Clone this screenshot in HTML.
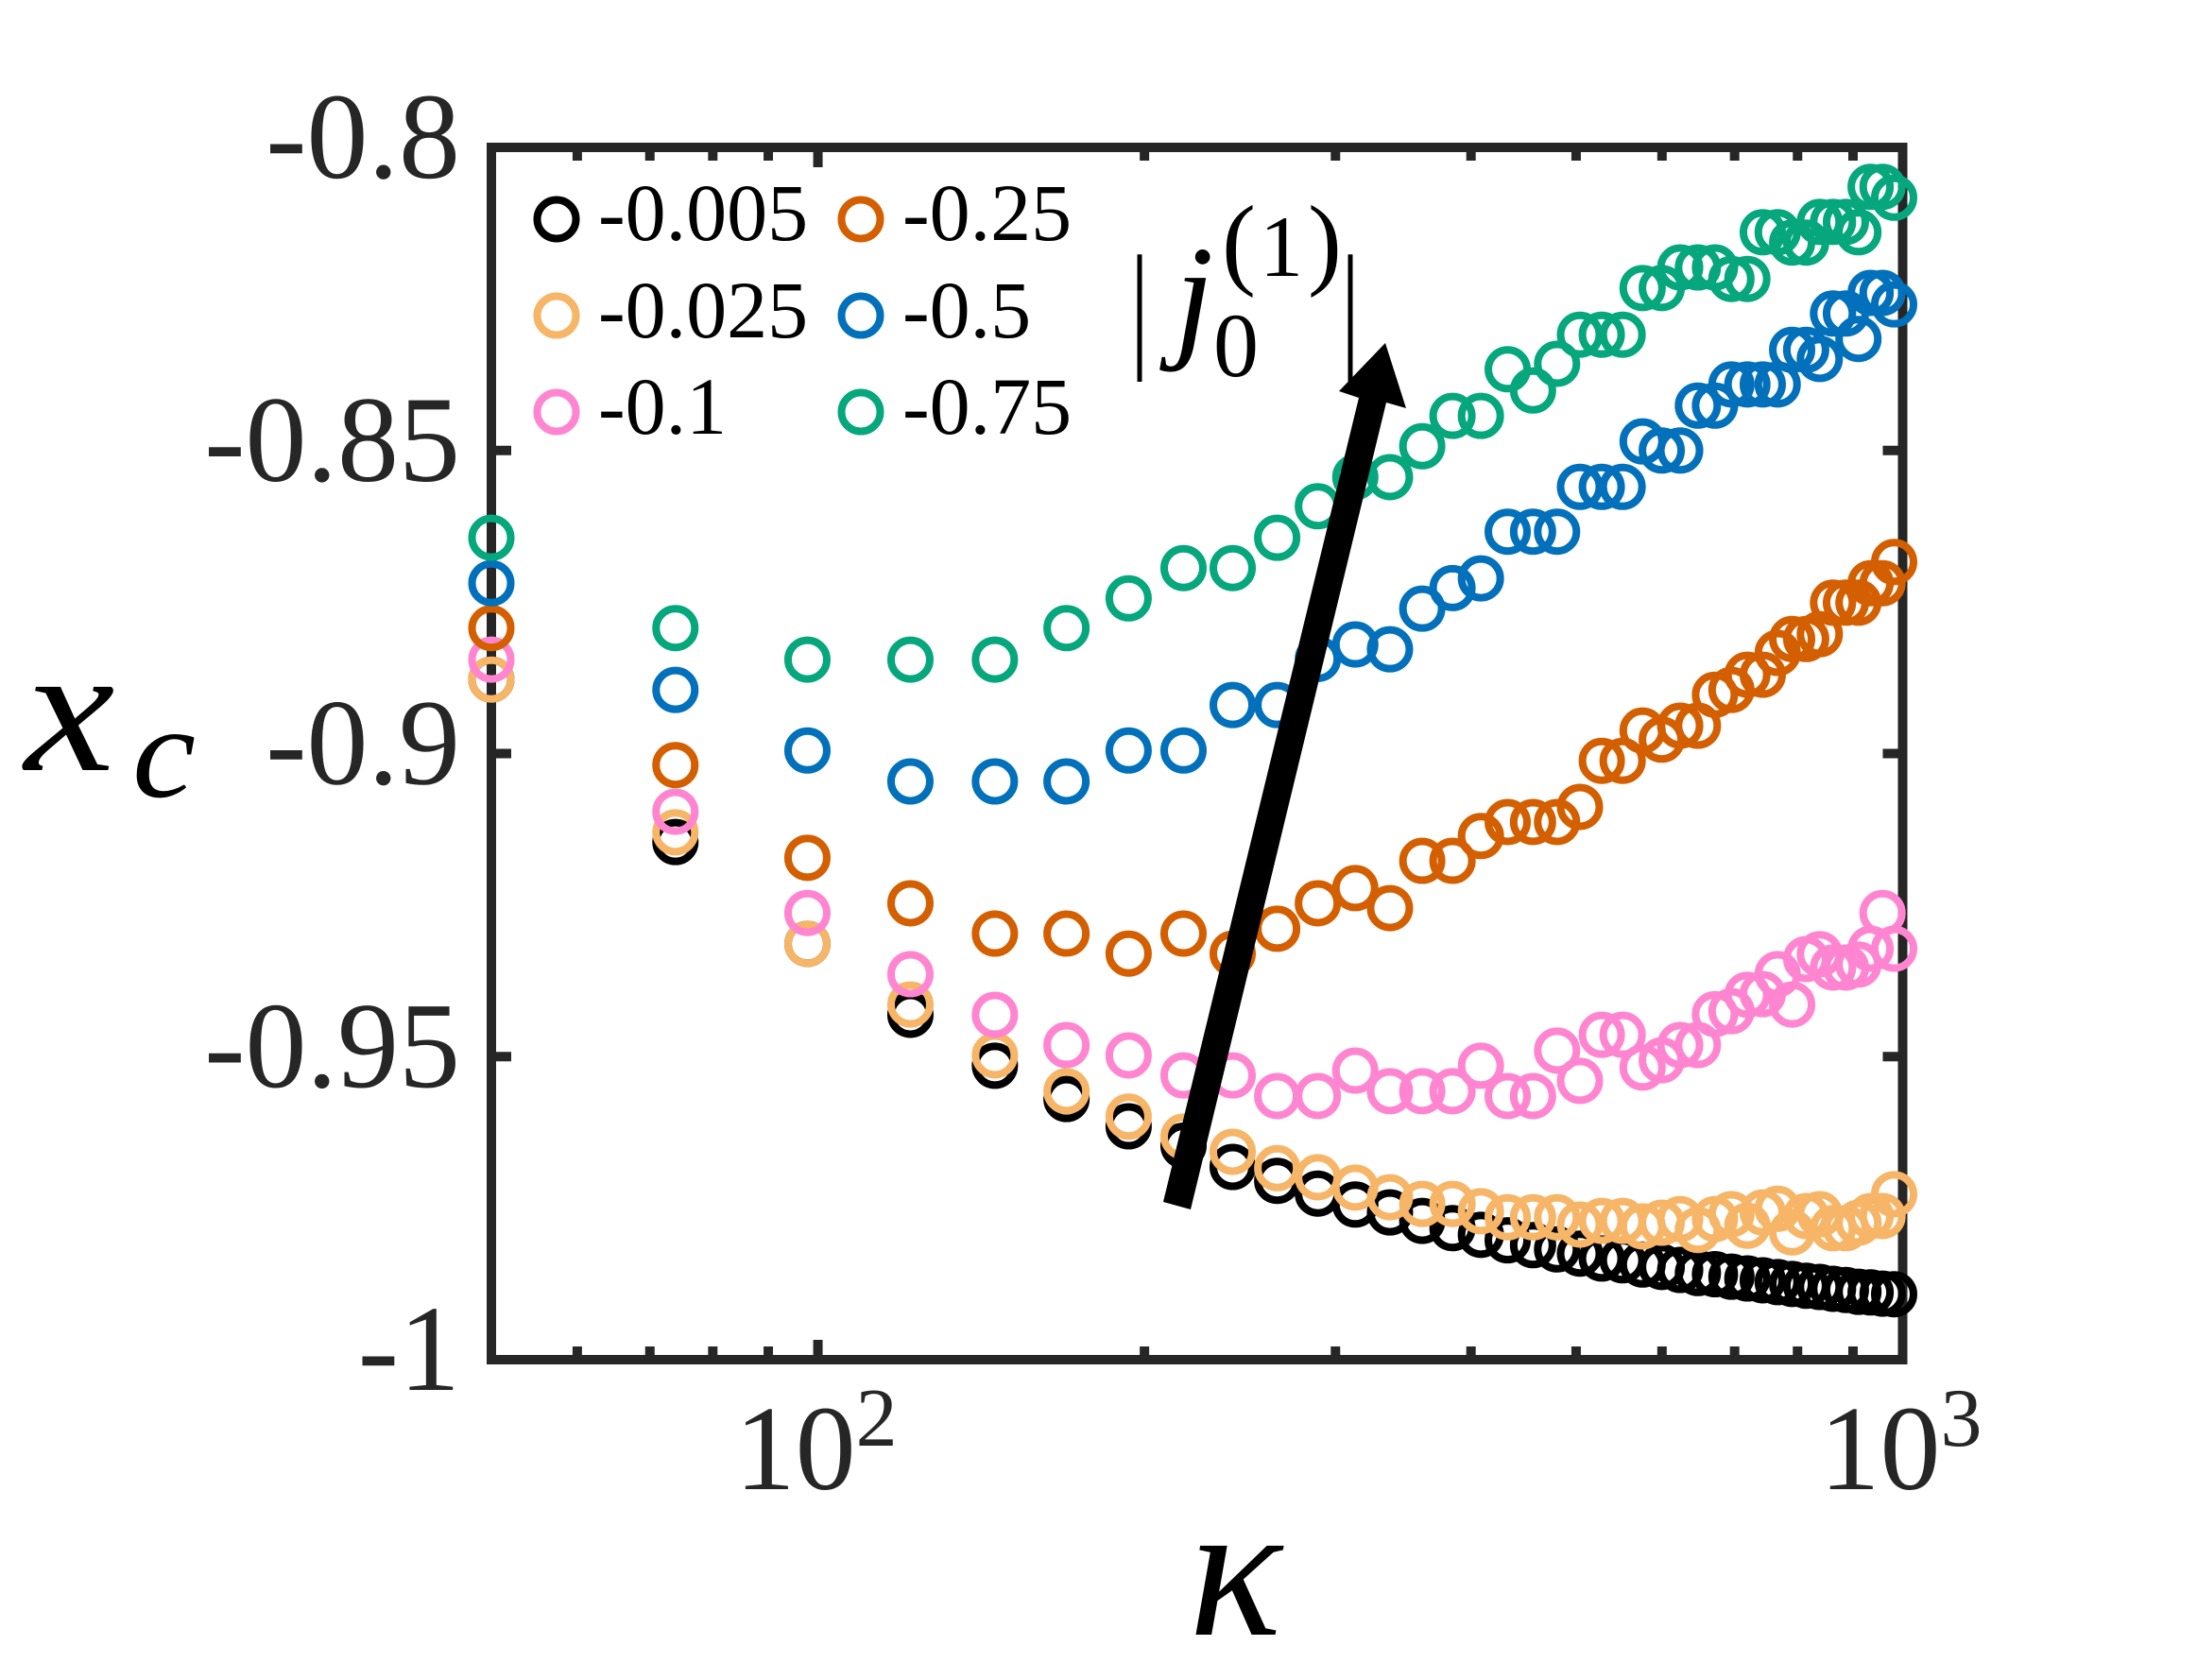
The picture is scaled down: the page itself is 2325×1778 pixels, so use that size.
<!DOCTYPE html>
<html lang="en">
<head>
<meta charset="utf-8">
<title>x_c versus kappa</title>
<style>
html,body{margin:0;padding:0;background:#fff;width:2325px;height:1778px;overflow:hidden}
svg{display:block}
text{font-family:"Liberation Serif","DejaVu Serif",serif}
</style>
</head>
<body>
<svg id="chart" xmlns="http://www.w3.org/2000/svg" width="2325" height="1778" viewBox="0 0 2325 1778">
  <rect x="0" y="0" width="2325" height="1778" fill="#ffffff"/>
  <g id="axes-layer"></g>
  <g id="series-layer"></g>

  <polygon fill="#000" points="1231,1272 1438,421 1417,414 1466,363 1488,432 1467,426 1260,1280"/>

  <g fill="#000">
    <text transform="translate(1196,372) scale(1,1.48)" font-size="100">|</text>
    <text x="1243" y="362" font-size="148" font-style="italic">j</text>
    <text x="1284" y="398" font-size="96">0</text>
    <text x="1293" y="292" font-size="108">(</text>
    <text x="1333" y="292" font-size="92">1</text>
    <text x="1384" y="292" font-size="108">)</text>
    <text transform="translate(1419,372) scale(1,1.48)" font-size="100">|</text>
  </g>

  <g font-size="86" fill="#000">
    <circle cx="589" cy="232" r="20.5" fill="none" stroke="#000000" stroke-width="8"/>
    <text x="633" y="254">-0.005</text>
    <circle cx="589" cy="334" r="20.5" fill="none" stroke="#F6B567" stroke-width="8"/>
    <text x="633" y="357">-0.025</text>
    <circle cx="589" cy="436" r="20.5" fill="none" stroke="#FF85D0" stroke-width="8"/>
    <text x="633" y="459">-0.1</text>
    <circle cx="911" cy="232" r="20.5" fill="none" stroke="#D35F00" stroke-width="8"/>
    <text x="955" y="254">-0.25</text>
    <circle cx="911" cy="334" r="20.5" fill="none" stroke="#0270BA" stroke-width="8"/>
    <text x="955" y="357">-0.5</text>
    <circle cx="911" cy="436" r="20.5" fill="none" stroke="#06A77D" stroke-width="8"/>
    <text x="955" y="459">-0.75</text>
  </g>

  <g fill="#000" font-style="italic">
    <text transform="translate(26,815) scale(1.12,1)" font-size="192">x</text>
    <text transform="translate(140,843) scale(1.08,1)" font-size="140">c</text>
  </g>
  <text x="1258" y="1730" font-size="205" font-style="italic" fill="#000">κ</text>
</svg>

<script>
// Data
const kappa = [50,73.9,97.8,121.7,145.6,169.5,193.4,217.3,241.2,265.1,289,312.9,336.8,360.7,384.6,408.5,432.4,456.3,480.2,504.1,528,551.9,575.8,599.7,623.6,647.5,671.4,695.3,719.2,743.1,767,790.9,814.8,838.7,862.6,886.5,910.4,934.3,958.2,982.1];
const j005 = [-0.8878,-0.9146,-0.9314,-0.9431,-0.9515,-0.9570,-0.9615,-0.9647,-0.9682,-0.9705,-0.9726,-0.9744,-0.9757,-0.9771,-0.9783,-0.9794,-0.9803,-0.9811,-0.9818,-0.9825,-0.9833,-0.9836,-0.9843,-0.9847,-0.9852,-0.9857,-0.9859,-0.9863,-0.9866,-0.9869,-0.9872,-0.9875,-0.9878,-0.9880,-0.9883,-0.9885,-0.9888,-0.9889,-0.9891,-0.9892];
const j025 = [-0.8878,-0.9130,-0.9314,-0.9414,-0.9498,-0.9557,-0.9599,-0.9632,-0.9657,-0.9684,-0.9699,-0.9716,-0.9732,-0.9743,-0.9743,-0.9755,-0.9765,-0.9765,-0.9765,-0.9777,-0.9771,-0.9771,-0.9780,-0.9774,-0.9768,-0.9786,-0.9768,-0.9760,-0.9779,-0.9757,-0.9751,-0.9790,-0.9763,-0.9760,-0.9783,-0.9783,-0.9774,-0.9763,-0.9763,-0.9727];
const j100 = [-0.8845,-0.9096,-0.9263,-0.9364,-0.9431,-0.9481,-0.9498,-0.9531,-0.9531,-0.9565,-0.9565,-0.9523,-0.9557,-0.9557,-0.9557,-0.9515,-0.9565,-0.9565,-0.9490,-0.9540,-0.9464,-0.9464,-0.9518,-0.9506,-0.9481,-0.9481,-0.9430,-0.9425,-0.9398,-0.9397,-0.9364,-0.9414,-0.9339,-0.9331,-0.9353,-0.9353,-0.9348,-0.9322,-0.9263,-0.9322];
const j250 = [-0.8793,-0.9019,-0.9172,-0.9247,-0.9297,-0.9297,-0.9330,-0.9297,-0.9330,-0.9289,-0.9247,-0.9222,-0.9255,-0.9177,-0.9177,-0.9136,-0.9113,-0.9113,-0.9113,-0.9088,-0.9012,-0.9012,-0.8962,-0.8977,-0.8954,-0.8954,-0.8903,-0.8895,-0.8870,-0.8870,-0.8834,-0.8811,-0.8811,-0.8803,-0.8751,-0.8751,-0.8751,-0.8719,-0.8719,-0.8684];
const j500 = [-0.8719,-0.8895,-0.8995,-0.9046,-0.9046,-0.9046,-0.8995,-0.8995,-0.8920,-0.8920,-0.8844,-0.8820,-0.8828,-0.8761,-0.8727,-0.8711,-0.8634,-0.8634,-0.8634,-0.8560,-0.8560,-0.8560,-0.8485,-0.8500,-0.8500,-0.8426,-0.8426,-0.8391,-0.8391,-0.8391,-0.8391,-0.8334,-0.8334,-0.8349,-0.8274,-0.8274,-0.8316,-0.8240,-0.8240,-0.8259];
const j750 = [-0.8644,-0.8793,-0.8845,-0.8845,-0.8845,-0.8793,-0.8744,-0.8694,-0.8694,-0.8644,-0.8592,-0.8544,-0.8544,-0.8493,-0.8443,-0.8443,-0.8366,-0.8401,-0.8357,-0.8309,-0.8309,-0.8309,-0.8232,-0.8232,-0.8198,-0.8198,-0.8198,-0.8217,-0.8217,-0.8140,-0.8140,-0.8157,-0.8157,-0.8123,-0.8123,-0.8123,-0.8140,-0.8065,-0.8065,-0.8083];
const seriesNames = ['series-0005','series-0025','series-01','series-025','series-05','series-075'];
const seriesColors = ['#000000','#F6B567','#FF85D0','#D35F00','#0270BA','#06A77D'];
const seriesValues = [j005,j025,j100,j250,j500,j750];
const yTicks = [-0.8,-0.85,-0.9,-0.95,-1];
const yTickLabels = ['-0.8','-0.85','-0.9','-0.95','-1'];
const xMajorTicks = [100,1000];
const xMajorExponents = ['2','3'];
const xMinorTicks = [60,70,80,90,200,300,400,500,600,700,800,900];
const xDomain = [50,1000];
const yDomain = [-1,-0.8];

// Plot frame and scales
const NS = 'http://www.w3.org/2000/svg';
const left = 520, right = 2013.5, top_ = 156, bottom = 1439;
const ink = '#262626';
function xScale(k){
  return left + (Math.log10(k) - Math.log10(xDomain[0])) / (Math.log10(xDomain[1]) - Math.log10(xDomain[0])) * (right - left);
}
function yScale(v){
  return bottom - (v - yDomain[0]) / (yDomain[1] - yDomain[0]) * (bottom - top_);
}
function make(tag, parent, props, text){
  const el = document.createElementNS(NS, tag);
  Object.keys(props).forEach(function(k){ el.setAttribute(k, props[k]); });
  if (text !== undefined) el.textContent = text;
  parent.appendChild(el);
  return el;
}
const axes = document.getElementById('axes-layer');
const layer = document.getElementById('series-layer');

// Y ticks, both sides
yTicks.forEach(function(t, i){
  const y = yScale(t);
  if (t !== yDomain[0] && t !== yDomain[1]) {
    const a = make('line', axes, {x1:left, x2:left+21, y1:y, y2:y, stroke:ink, 'stroke-width':10});
    
    
    const b = make('line', axes, {x1:right-21, x2:right, y1:y, y2:y, stroke:ink, 'stroke-width':10});
    
    
  }
  const lab = make('text', axes, {x:487, y:y+32, 'text-anchor':'end', 'font-size':130, fill:ink}, yTickLabels[i]);
  
  
});

// X minor ticks, both sides
xMinorTicks.forEach(function(t){
  const x = xScale(t);
  const a = make('line', axes, {x1:x, x2:x, y1:bottom, y2:bottom-14, stroke:ink, 'stroke-width':10});
  
  
  const b = make('line', axes, {x1:x, x2:x, y1:top_, y2:top_+14, stroke:ink, 'stroke-width':10});
  
  
});

// X major ticks and labels
xMajorTicks.forEach(function(t, i){
  const x = xScale(t);
  const a = make('line', axes, {x1:x, x2:x, y1:bottom, y2:bottom-21, stroke:ink, 'stroke-width':10});
  
  
  const b = make('line', axes, {x1:x, x2:x, y1:top_, y2:top_+21, stroke:ink, 'stroke-width':10});
  
  
  const base = make('text', axes, {x:x-88, y:1576, 'font-size':128, fill:ink}, '10');
  
  
  const exp = make('text', axes, {x:x+40, y:1530, 'font-size':88, fill:ink}, xMajorExponents[i]);
  
  
});

// Frame
const frame = make('rect', axes, {x:left, y:top_, width:right-left, height:bottom-top_, fill:'none', stroke:ink, 'stroke-width':10});



// Markers
seriesValues.forEach(function(values, s){
  const g = make('g', layer, {fill:'none', stroke:seriesColors[s], 'stroke-width':8});
  
  
  values.forEach(function(v, i){
    const c = make('circle', g, {cx:xScale(kappa[i]), cy:yScale(v), r:20.5});
    
    
  });
});
</script>
</body>
</html>
